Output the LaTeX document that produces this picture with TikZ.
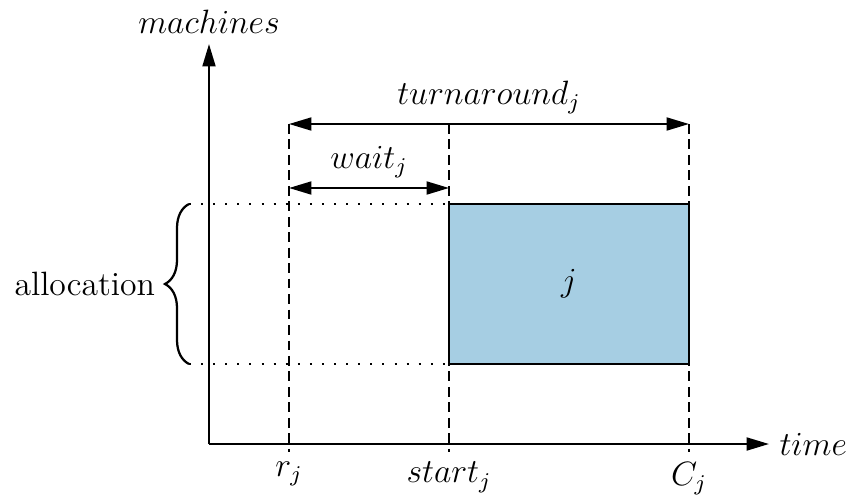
\documentclass[tikz,border=0pt]{standalone}
\usetikzlibrary{arrows.meta,decorations.pathreplacing}
\definecolor{jobblue}{HTML}{A6CEE3}
\begin{document}
\begin{tikzpicture}[
  font=\large,
  tip/.style={-{Triangle[length=8pt,width=4.6pt]}},
  dtip/.style={{Triangle[length=8pt,width=4.6pt]}-{Triangle[length=8pt,width=4.6pt]}},
  axis/.style={line width=0.8pt, tip},
  guide/.style={line width=0.6pt, dash pattern=on 3.5pt off 2pt},
  dots/.style={line width=0.7pt, dash pattern=on 0.7pt off 3.6pt},
  span/.style={line width=0.8pt, dtip},
  job/.style={draw, line width=0.6pt, fill=jobblue, inner sep=0pt, outer sep=0pt,
              minimum width=3cm, minimum height=2cm, anchor=south west}
]
\useasboundingbox (-2.6125,-0.625) rectangle (7.9625,5.55);

\coordinate (O) at (0,0);
\coordinate (xend) at (7,0);
\coordinate (yend) at (0,5);
\coordinate (rtop) at (1,4);
\coordinate (rbot) at (1,-0.1);
\coordinate (stop) at (3,4);
\coordinate (sbot) at (3,-0.1);
\coordinate (ctop) at (6,4);
\coordinate (cbot) at (6,-0.1);
\coordinate (wl) at (1,3.2);
\coordinate (wr) at (3,3.2);
\coordinate (bb) at (-0.25,1);
\coordinate (bt) at (-0.25,3);

% job rectangle
\node[job] (j) at (3,1) {$j$};

% axes
\draw[axis] (O) -- (xend) node[right] (tlab) {$time$};
\draw[axis] (O) -- (yend) node[above] (mlab) {$machines$};

% dotted allocation guides
\draw[dots] (bt) -- (j.north west);
\draw[dots] (bb) -- (j.south west);

% dashed guides
\draw[guide] (rtop) -- (rbot) node[below] (rlab) {$r_j$};
\draw[guide] (stop) -- (sbot) node[below] (slab) {$start_j$};
\draw[guide] (ctop) -- (cbot) node[below] (clab) {$C_j$};

% spans
\draw[span] (rtop) -- node[above] (tal) {$turnaround_j$} (ctop);
\draw[span] (wl) -- node[above] (wal) {$wait_j$} (wr);

% brace
\draw[line width=0.8pt, decorate, decoration={brace, amplitude=0.3cm}]
  (bb) -- (bt) coordinate[midway, xshift=-0.3cm] (bmid);
\node[anchor=east] (alab) at (bmid) {allocation};
\end{tikzpicture}
\end{document}
